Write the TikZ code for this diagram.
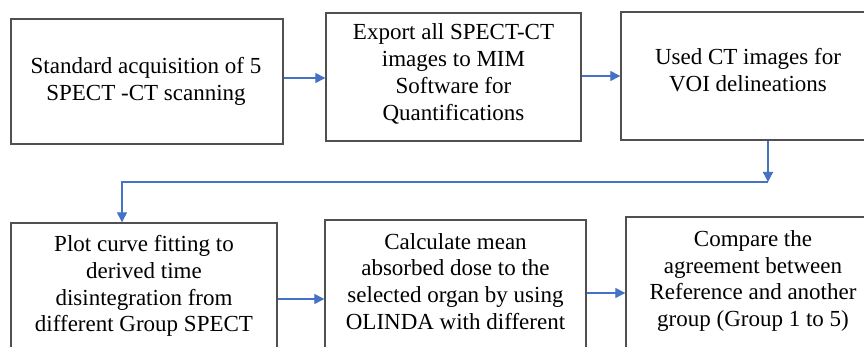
\documentclass[tikz,border=0pt]{standalone}
\usepackage{fontspec}
\setmainfont{Liberation Serif}
\newfontfamily\stepfont{Liberation Serif}
\usepackage{tikz}
\usetikzlibrary{arrows.meta,positioning}
\definecolor{flowblue}{HTML}{4472C4}
\definecolor{boxgray}{HTML}{505050}
\tikzset{
  every picture/.style = {
    x = 1pt,
    y = -1pt,
  }
  ,
  stepbox/.style = {
    rectangle,
    draw = boxgray,
    line width = 1.4pt,
    inner sep = 0pt
  }
  , % texts of the steps
  steptext/.style = {
    align = center,
    inner sep = 0pt,
    font = \stepfont\fontsize{23}{26.8}\selectfont
  }
  , % blue connectors
  flow/.style = {
    draw = flowblue,
    line width = 1.3pt,
    -{Triangle[length=10pt,width=10pt]}
  }
}

\begin{document}
\begin{tikzpicture}
  \clip (0,0) rectangle (864,347);
  \fill[white] (0,0) rectangle (864,347);
  % boxes
  \node[stepbox, minimum width = 272pt, minimum height = 125pt] at (147,81.5) (b1) {};
  \node[stepbox, minimum width = 255pt, minimum height = 128pt] at (453.5,77) (b2) {};
  \node[stepbox, minimum width = 259pt, minimum height = 128pt] at (750.5,76) (b3) {};
  \node[stepbox, minimum width = 266pt, minimum height = 147pt] at (144,296.5) (b4) {};
  \node[stepbox, minimum width = 261pt, minimum height = 150pt] at (455.5,295) (b5) {};
  \node[stepbox, minimum width = 254pt, minimum height = 153pt] at (753,293.5) (b6) {};
  % texts
  \node[steptext] at (146,81.5) (t1) {Standard acquisition of 5\\SPECT -CT scanning};
  \node[steptext] at (453.5,74) (t2) {Export all SPECT-CT\\images to MIM\\Software for\\Quantifications};
  \node[steptext] at (748,70) (t3) {Used CT images for\\VOI delineations};
  \node[steptext] at (144,286) (t4) {Plot curve fitting to\\derived time\\disintegration from\\different Group SPECT};
  \node[steptext] at (455.5,281.5) (t5) {Calculate mean\\absorbed dose to the\\selected organ by using\\OLINDA with different};
  \node[steptext] at (753,281) (t6) {Compare the\\agreement between\\Reference and another\\group (Group 1 to 5)};
  % connectors
  \coordinate (turnR) at (768,182);
  \coordinate (turnL) at (122,182);
  \draw[flow] (b1.east |- 0,78) -- (b2.west |- 0,78);
  \draw[flow] (b2.east |- 0,76) -- (b3.west |- 0,76);
  \draw[flow] (b3.south -| turnR) -- (turnR);
  \draw[flow] (turnR) -- (turnL) -- (b4.north -| turnL);
  \draw[flow] (b4.east |- 0,299) -- (b5.west |- 0,299);
  \draw[flow] (b5.east |- 0,293) -- (b6.west |- 0,293);
\end{tikzpicture}
\end{document}
